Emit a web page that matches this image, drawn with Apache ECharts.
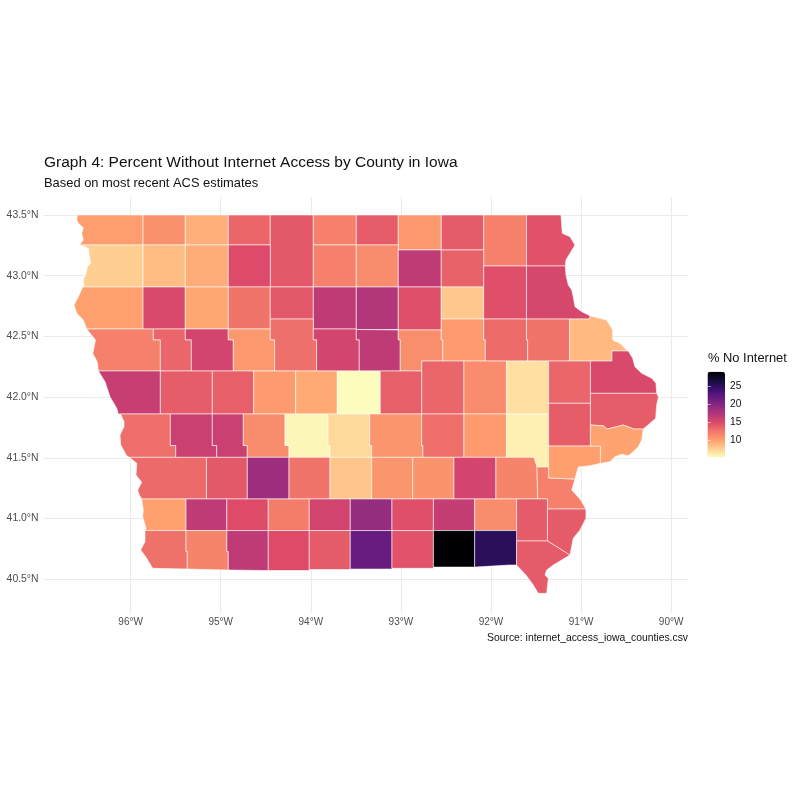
<!DOCTYPE html>
<html>
<head>
<meta charset="utf-8">
<style>html,body{margin:0;padding:0;background:#fff}#chart{width:800px;height:800px}</style>
<script src="https://cdn.jsdelivr.net/npm/echarts@6/dist/echarts.min.js"></script>
</head>
<body>
<div id="chart"></div>
<script>
const lonTicks = [-96,-95,-94,-93,-92,-91,-90];
const latTicks = [40.5,41,41.5,42,42.5,43,43.5];
const legendTicks = [10,15,20,25];
const legendMin = 5.44, legendMax = 28.9;
const magmaReversed = ['#FCFDBF','#FFCF92','#FFA06E','#F2786A','#DE4B69','#B73779','#8C2981','#641A80','#3B0F70','#140E36','#000004'];

const countyNames = ['Lyon','Osceola','Dickinson','Emmet','Kossuth','Winnebago','Worth','Mitchell','Howard','Winneshiek','Allamakee',
 'Sioux','OBrien','Clay','Palo Alto','Hancock','Cerro Gordo','Floyd','Chickasaw',
 'Plymouth','Cherokee','Buena Vista','Pocahontas','Humboldt','Wright','Franklin','Butler','Bremer','Fayette','Clayton',
 'Woodbury','Ida','Sac','Calhoun','Webster','Hamilton','Hardin','Grundy','Black Hawk','Buchanan','Delaware','Dubuque',
 'Monona','Crawford','Carroll','Greene','Boone','Story','Marshall','Tama','Benton','Linn','Jones','Jackson',
 'Harrison','Shelby','Audubon','Guthrie','Dallas','Polk','Jasper','Poweshiek','Iowa','Johnson','Cedar','Clinton',
 'Pottawattamie','Cass','Adair','Madison','Warren','Marion','Mahaska','Keokuk','Washington','Louisa','Muscatine','Scott',
 'Mills','Montgomery','Adams','Union','Clarke','Lucas','Monroe','Wapello','Jefferson','Henry','Des Moines',
 'Fremont','Page','Taylor','Ringgold','Decatur','Wayne','Appanoose','Davis','Van Buren','Lee'];

const pctNoInternet = [10.3,11.0,9.4,13.4,14.1,12.0,13.9,10.6,14.0,12.0,14.5,
 7.8,8.7,9.5,14.9,12.0,11.3,16.7,13.6,
 10.1,15.1,9.8,12.7,14.1,16.7,17.4,14.6,8.2,14.6,15.3,
 12.0,13.4,15.5,10.6,12.9,15.5,16.7,11.2,10.4,13.1,12.7,8.9,
 16.2,13.9,13.8,10.4,9.7,5.5,13.8,13.4,11.3,6.9,13.4,15.1,
 13.0,16.0,16.0,11.3,5.8,7.3,10.8,13.0,10.4,6.1,13.9,13.9,
 13.2,14.1,18.6,12.7,8.3,10.8,10.9,15.5,11.8,12.0,10.2,10.0,
 10.1,16.7,14.8,12.2,15.6,19.0,14.6,16.4,11.3,14.0,14.0,
 12.8,11.8,16.7,14.8,14.0,21.6,14.4,28.9,25.1,14.0];

// County outlines in degrees [lon, lat]; four numbers = west, north, east, south
const countyOutlines = {
 'Lyon':[[-96.592,43.5],[-96.598,43.459],[-96.58,43.432],[-96.525,43.395],[-96.543,43.349],[-96.525,43.294],[-96.569,43.253],[-95.862,43.253],[-95.862,43.5]],
 'Osceola':[-95.862,43.5,-95.393,43.253],
 'Dickinson':[-95.393,43.5,-94.916,43.253],
 'Emmet':[-94.916,43.5,-94.45,43.253],
 'Kossuth':[-94.45,43.5,-93.972,42.907],
 'Winnebago':[-93.972,43.5,-93.495,43.253],
 'Worth':[-93.495,43.5,-93.029,43.253],
 'Mitchell':[-93.029,43.5,-92.552,43.212],
 'Howard':[-92.552,43.5,-92.081,43.212],
 'Winneshiek':[-92.081,43.5,-91.606,43.08],
 'Allamakee':[[-91.606,43.5],[-91.223,43.5],[-91.215,43.418],[-91.209,43.349],[-91.123,43.321],[-91.068,43.253],[-91.123,43.185],[-91.168,43.129],[-91.175,43.08],[-91.606,43.08]],
 'Sioux':[[-96.569,43.253],[-96.469,43.226],[-96.458,43.157],[-96.443,43.102],[-96.481,43.074],[-96.495,43.02],[-96.525,42.965],[-96.517,42.923],[-96.532,42.907],[-95.862,42.907],[-95.862,43.253]],
 'OBrien':[-95.862,43.253,-95.393,42.907],
 'Clay':[-95.393,43.253,-94.916,42.907],
 'Palo Alto':[-94.916,43.253,-94.45,42.907],
 'Hancock':[-93.972,43.253,-93.495,42.907],
 'Cerro Gordo':[-93.495,43.253,-93.029,42.907],
 'Floyd':[-93.029,43.212,-92.552,42.907],
 'Chickasaw':[-92.552,43.212,-92.081,42.907],
 'Plymouth':[[-96.532,42.907],[-96.58,42.827],[-96.628,42.759],[-96.598,42.69],[-96.525,42.635],[-96.487,42.561],[-95.862,42.561],[-95.862,42.907]],
 'Cherokee':[-95.862,42.907,-95.393,42.561],
 'Buena Vista':[-95.393,42.907,-94.916,42.561],
 'Pocahontas':[-94.916,42.907,-94.45,42.561],
 'Humboldt':[-94.45,42.907,-93.972,42.643],
 'Wright':[-93.972,42.907,-93.495,42.561],
 'Franklin':[-93.495,42.907,-93.029,42.557],
 'Butler':[-93.029,42.907,-92.552,42.553],
 'Bremer':[-92.552,42.907,-92.081,42.643],
 'Fayette':[-92.081,43.08,-91.606,42.643],
 'Clayton':[[-91.606,43.08],[-91.175,43.08],[-91.168,43.006],[-91.142,42.923],[-91.104,42.882],[-91.087,42.827],[-91.068,42.745],[-90.993,42.703],[-90.901,42.67],[-90.901,42.643],[-91.606,42.643]],
 'Woodbury':[[-96.487,42.561],[-96.39,42.47],[-96.42,42.36],[-96.37,42.29],[-96.358,42.215],[-95.67,42.215],[-95.67,42.472],[-95.748,42.472],[-95.748,42.561]],
 'Ida':[[-95.748,42.561],[-95.393,42.561],[-95.393,42.472],[-95.326,42.472],[-95.326,42.215],[-95.67,42.215],[-95.67,42.472],[-95.748,42.472]],
 'Sac':[[-95.393,42.561],[-94.916,42.561],[-94.916,42.472],[-94.86,42.472],[-94.86,42.215],[-95.326,42.215],[-95.326,42.472],[-95.393,42.472]],
 'Calhoun':[[-94.916,42.561],[-94.45,42.561],[-94.45,42.472],[-94.401,42.472],[-94.401,42.215],[-94.86,42.215],[-94.86,42.472],[-94.916,42.472]],
 'Webster':[[-94.45,42.643],[-93.972,42.643],[-93.972,42.472],[-93.935,42.472],[-93.935,42.215],[-94.401,42.215],[-94.401,42.472],[-94.45,42.472]],
 'Hamilton':[[-93.972,42.561],[-93.495,42.561],[-93.495,42.472],[-93.462,42.472],[-93.462,42.215],[-93.935,42.215],[-93.935,42.472],[-93.972,42.472]],
 'Hardin':[[-93.495,42.557],[-93.029,42.553],[-93.029,42.472],[-93.007,42.472],[-93.007,42.215],[-93.462,42.215],[-93.462,42.472],[-93.495,42.472]],
 'Grundy':[[-93.029,42.553],[-92.552,42.553],[-92.552,42.472],[-92.536,42.472],[-92.536,42.297],[-92.769,42.297],[-92.769,42.215],[-93.007,42.215],[-93.007,42.472],[-93.029,42.472]],
 'Black Hawk':[[-92.552,42.643],[-92.081,42.643],[-92.081,42.472],[-92.063,42.472],[-92.063,42.297],[-92.536,42.297],[-92.536,42.472],[-92.552,42.472]],
 'Buchanan':[[-92.081,42.643],[-91.606,42.643],[-91.606,42.472],[-91.593,42.472],[-91.593,42.297],[-92.063,42.297],[-92.063,42.472],[-92.081,42.472]],
 'Delaware':[[-91.606,42.643],[-91.127,42.643],[-91.127,42.297],[-91.593,42.297],[-91.593,42.472],[-91.606,42.472]],
 'Dubuque':[[-91.127,42.643],[-90.901,42.643],[-90.901,42.67],[-90.716,42.635],[-90.649,42.553],[-90.649,42.47],[-90.568,42.443],[-90.494,42.388],[-90.476,42.38],[-90.657,42.38],[-90.657,42.297],[-91.127,42.297]],
 'Monona':[[-96.358,42.215],[-96.284,42.127],[-96.229,42.003],[-96.154,41.908],[-96.137,41.861],[-95.67,41.861],[-95.67,42.215]],
 'Crawford':[-95.67,42.215,-95.093,41.861],
 'Carroll':[-95.093,42.215,-94.634,41.861],
 'Greene':[-94.634,42.215,-94.168,41.861],
 'Boone':[-94.168,42.215,-93.706,41.861],
 'Story':[-93.706,42.215,-93.229,41.861],
 'Marshall':[-93.229,42.215,-92.769,41.861],
 'Tama':[-92.769,42.297,-92.3,41.861],
 'Benton':[-92.3,42.297,-91.828,41.861],
 'Linn':[-91.828,42.297,-91.36,41.861],
 'Jones':[-91.36,42.297,-90.896,41.949],
 'Jackson':[[-90.896,42.297],[-90.657,42.297],[-90.657,42.38],[-90.476,42.38],[-90.427,42.32],[-90.402,42.25],[-90.327,42.196],[-90.216,42.155],[-90.169,42.114],[-90.161,42.031],[-90.896,42.031]],
 'Harrison':[[-96.11,41.861],[-95.559,41.861],[-95.559,41.601],[-95.499,41.601],[-95.499,41.504],[-96.014,41.504],[-96.043,41.517],[-96.11,41.606],[-96.118,41.688],[-96.073,41.756],[-96.073,41.797]],
 'Shelby':[[-95.559,41.861],[-95.093,41.861],[-95.093,41.601],[-95.044,41.601],[-95.044,41.504],[-95.499,41.504],[-95.499,41.601],[-95.559,41.601]],
 'Audubon':[[-95.093,41.861],[-94.749,41.861],[-94.749,41.601],[-94.705,41.601],[-94.705,41.504],[-95.044,41.504],[-95.044,41.601],[-95.093,41.601]],
 'Guthrie':[[-94.749,41.861],[-94.286,41.861],[-94.286,41.601],[-94.242,41.601],[-94.242,41.504],[-94.705,41.504],[-94.705,41.601],[-94.749,41.601]],
 'Dallas':[[-94.286,41.861],[-93.809,41.861],[-93.809,41.601],[-93.787,41.601],[-93.787,41.504],[-94.242,41.504],[-94.242,41.601],[-94.286,41.601]],
 'Polk':[[-93.809,41.861],[-93.346,41.861],[-93.346,41.601],[-93.324,41.601],[-93.324,41.504],[-93.787,41.504],[-93.787,41.601],[-93.809,41.601]],
 'Jasper':[[-93.346,41.861],[-92.769,41.861],[-92.769,41.601],[-92.755,41.601],[-92.755,41.504],[-93.324,41.504],[-93.324,41.601],[-93.346,41.601]],
 'Poweshiek':[[-92.769,41.861],[-92.3,41.861],[-92.3,41.504],[-92.755,41.504],[-92.755,41.601],[-92.769,41.601]],
 'Iowa':[-92.3,41.861,-91.828,41.504],
 'Johnson':[[-91.828,41.861],[-91.36,41.861],[-91.36,41.424],[-91.489,41.424],[-91.523,41.504],[-91.828,41.504]],
 'Cedar':[-91.36,41.949,-90.896,41.597],
 'Clinton':[[-90.896,42.031],[-90.161,42.031],[-90.141,42.001],[-90.161,41.935],[-90.172,41.825],[-90.235,41.784],[-90.31,41.737],[-90.413,41.737],[-90.532,41.77],[-90.709,41.737],[-90.754,41.764],[-90.896,41.77]],
 'Pottawattamie':[[-96.014,41.504],[-95.932,41.455],[-95.94,41.358],[-95.877,41.298],[-95.921,41.235],[-95.903,41.194],[-95.877,41.161],[-95.158,41.161],[-95.158,41.504]],
 'Cass':[-95.158,41.504,-94.705,41.161],
 'Adair':[-94.705,41.504,-94.242,41.161],
 'Madison':[-94.242,41.504,-93.787,41.161],
 'Warren':[-93.787,41.504,-93.324,41.161],
 'Marion':[-93.324,41.504,-92.869,41.161],
 'Mahaska':[-92.869,41.504,-92.411,41.161],
 'Keokuk':[-92.411,41.504,-91.945,41.161],
 'Washington':[[-91.945,41.504],[-91.523,41.504],[-91.489,41.424],[-91.482,41.161],[-91.945,41.161]],
 'Louisa':[[-91.489,41.424],[-91.36,41.424],[-91.36,41.334],[-91.068,41.325],[-91.104,41.235],[-91.012,41.161],[-90.946,41.078],[-91.373,41.078],[-91.373,41.161],[-91.482,41.161]],
 'Muscatine':[[-91.36,41.597],[-90.785,41.597],[-90.785,41.455],[-90.901,41.435],[-91.031,41.424],[-91.068,41.325],[-91.36,41.334]],
 'Scott':[[-90.896,41.77],[-90.754,41.764],[-90.709,41.737],[-90.532,41.77],[-90.413,41.737],[-90.31,41.737],[-90.327,41.647],[-90.365,41.591],[-90.421,41.55],[-90.476,41.517],[-90.549,41.529],[-90.624,41.509],[-90.679,41.468],[-90.771,41.455],[-90.785,41.455],[-90.785,41.597],[-90.896,41.597]],
 'Mills':[[-95.877,41.161],[-95.385,41.161],[-95.385,40.901],[-95.84,40.901],[-95.829,40.919],[-95.866,41.015],[-95.859,41.07]],
 'Montgomery':[-95.385,41.161,-94.932,40.901],
 'Adams':[-94.932,41.161,-94.472,40.901],
 'Union':[-94.472,41.161,-94.017,40.901],
 'Clarke':[-94.017,41.161,-93.562,40.901],
 'Lucas':[-93.562,41.161,-93.099,40.901],
 'Monroe':[-93.099,41.161,-92.639,40.901],
 'Wapello':[-92.639,41.161,-92.181,40.901],
 'Jefferson':[-92.181,41.161,-91.716,40.901],
 'Henry':[-91.716,41.161,-91.373,40.815],
 'Des Moines':[[-91.373,41.078],[-90.946,41.078],[-90.946,41.002],[-91.012,40.905],[-91.087,40.837],[-91.123,40.699],[-91.373,40.815]],
 'Fremont':[[-95.84,40.901],[-95.385,40.901],[-95.385,40.728],[-95.371,40.728],[-95.371,40.584],[-95.755,40.59],[-95.821,40.672],[-95.888,40.741],[-95.84,40.809]],
 'Page':[[-95.385,40.901],[-94.932,40.901],[-94.932,40.728],[-94.916,40.728],[-94.916,40.576],[-95.371,40.584],[-95.371,40.728],[-95.385,40.728]],
 'Taylor':[[-94.932,40.901],[-94.472,40.901],[-94.472,40.572],[-94.916,40.576],[-94.916,40.728],[-94.932,40.728]],
 'Ringgold':[-94.472,40.901,-94.017,40.572],
 'Decatur':[-94.017,40.901,-93.562,40.58],
 'Wayne':[-93.562,40.901,-93.099,40.584],
 'Appanoose':[-93.099,40.901,-92.639,40.59],
 'Davis':[-92.639,40.901,-92.181,40.6],
 'Van Buren':[[-92.181,40.901],[-91.716,40.901],[-91.716,40.617],[-91.8,40.617],[-92.181,40.6]],
 'Lee':[[-91.716,40.815],[-91.373,40.815],[-91.123,40.699],[-91.309,40.617],[-91.382,40.576],[-91.401,40.535],[-91.364,40.507],[-91.382,40.384],[-91.475,40.384],[-91.53,40.452],[-91.612,40.535],[-91.716,40.617]]
};

function ring(name){
  const o = countyOutlines[name];
  if (typeof o[0] === 'number') return [[o[0],o[1]],[o[2],o[1]],[o[2],o[3]],[o[0],o[3]]];
  return o;
}
const seriesData = countyNames.map((n,i)=>{const r=ring(n);return [r[0][0],r[0][1],pctNoInternet[i],n];});
const font = '"Liberation Sans", Arial, sans-serif';
const chart = echarts.init(document.getElementById('chart'),null,{renderer:'canvas'});
chart.setOption({
  animation:false,
  backgroundColor:'#fff',
  textStyle:{fontFamily:font},
  title:[
    {text:'Graph 4: Percent Without Internet Access by County in Iowa',left:44,top:154.5,padding:0,textStyle:{fontSize:15.5,fontWeight:'normal',color:'#111',fontFamily:font}},
    {text:'Based on most recent ACS estimates',left:44,top:177,padding:0,textStyle:{fontSize:12.9,fontWeight:'normal',color:'#111',fontFamily:font}},
    {text:'Source: internet_access_iowa_counties.csv',right:112,top:633.5,padding:0,textStyle:{fontSize:10.37,fontWeight:'normal',color:'#111',fontFamily:font}},
    {text:'% No Internet',left:708,top:352,padding:0,textStyle:{fontSize:12.9,fontWeight:'normal',color:'#111',fontFamily:font}}
  ],
  grid:[
    {left:43.5,top:197,width:644.5,height:416},
    {left:707.5,top:371.7,width:17.5,height:85.6}
  ],
  xAxis:[
    {type:'value',gridIndex:0,min:-96.967,max:-89.813,
     axisLine:{show:false},
     axisTick:{show:false,customValues:lonTicks},
     axisLabel:{customValues:lonTicks,formatter:v=>Math.abs(v)+'°W',color:'#4d4d4d',fontSize:10,margin:4},
     splitLine:{show:true,lineStyle:{color:'#ebebeb',width:1.1}}},
    {type:'value',gridIndex:1,min:0,max:1,show:false}
  ],
  yAxis:[
    {type:'value',gridIndex:0,min:40.222,max:43.648,
     axisLine:{show:false},
     axisTick:{show:false,customValues:latTicks},
     axisLabel:{customValues:latTicks,formatter:v=>v.toFixed(1)+'°N',color:'#4d4d4d',fontSize:10.4,margin:5},
     splitLine:{show:true,lineStyle:{color:'#ebebeb',width:1.1}}},
    {type:'value',gridIndex:1,position:'right',min:legendMin,max:legendMax,z:6,
     axisLine:{show:false},splitLine:{show:false},
     axisTick:{show:true,inside:true,length:3.5,customValues:legendTicks,lineStyle:{color:'rgba(255,255,255,.8)',width:.6}},
     axisLabel:{customValues:legendTicks,color:'#111',fontSize:10.2,margin:5}},
    {type:'value',gridIndex:1,position:'left',min:legendMin,max:legendMax,z:6,
     axisLine:{show:false},splitLine:{show:false},
     axisTick:{show:true,inside:true,length:3.5,customValues:legendTicks,lineStyle:{color:'rgba(255,255,255,.8)',width:.6}},
     axisLabel:{show:false}}
  ],
  visualMap:{
    type:'continuous',seriesIndex:0,dimension:2,min:legendMin,max:legendMax,
    left:707.5,top:371.7,itemWidth:17.5,itemHeight:85.6,padding:0,text:null,
    calculable:false,showLabel:false,realtime:false,hoverLink:false,
    inRange:{color:magmaReversed},
    textStyle:{color:'rgba(0,0,0,0)',fontSize:1}
  },
  series:[{
    type:'custom',coordinateSystem:'cartesian2d',xAxisIndex:0,yAxisIndex:0,clip:false,silent:true,
    encode:{x:0,y:1},
    data:seriesData,
    renderItem:(params,api)=>{
      const pts = ring(countyNames[params.dataIndex]).map(p=>api.coord(p));
      return {type:'polygon',shape:{points:pts},style:{fill:api.visual('color'),stroke:'rgba(255,255,255,0.72)',lineWidth:0.8}};
    }
  }]
});
</script>
</body>
</html>
